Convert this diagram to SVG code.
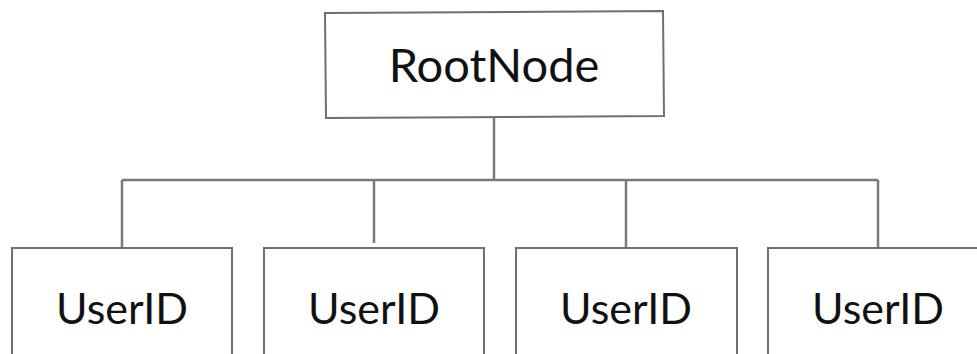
<svg xmlns="http://www.w3.org/2000/svg" width="977" height="354" viewBox="0 0 977 354">
<style>
.box{fill:#fff;stroke:#6f6f6f;stroke-width:2}
.lbl{font-family:Lato,"Liberation Sans",sans-serif;fill:#111;text-anchor:middle}
.conn{stroke:#7a7a7a;stroke-width:2.5;fill:none}
</style>
<rect width="977" height="354" fill="#fff"/>
<g id="connectors">
<path class="conn" d="M494 117V180M122 180H878M122 180V248M374 180V243M626 180V248M878 180V248"/>
</g>
<g id="root">
<path class="box" d="M325 13L663 11L664 116L326 118Z"/>
<text class="lbl" x="494" y="82" font-size="47">RootNode</text>
</g>
<g id="user1">
<rect class="box" x="12" y="248" width="220" height="120"/>
<text class="lbl" x="122" y="324" font-size="43">UserID</text>
</g>
<g id="user2">
<rect class="box" x="264" y="248" width="220" height="120"/>
<text class="lbl" x="374" y="324" font-size="43">UserID</text>
</g>
<g id="user3">
<rect class="box" x="516" y="248" width="221" height="120"/>
<text class="lbl" x="626" y="324" font-size="43">UserID</text>
</g>
<g id="user4">
<rect class="box" x="768" y="248" width="220" height="120"/>
<text class="lbl" x="878" y="324" font-size="43">UserID</text>
</g>
</svg>
